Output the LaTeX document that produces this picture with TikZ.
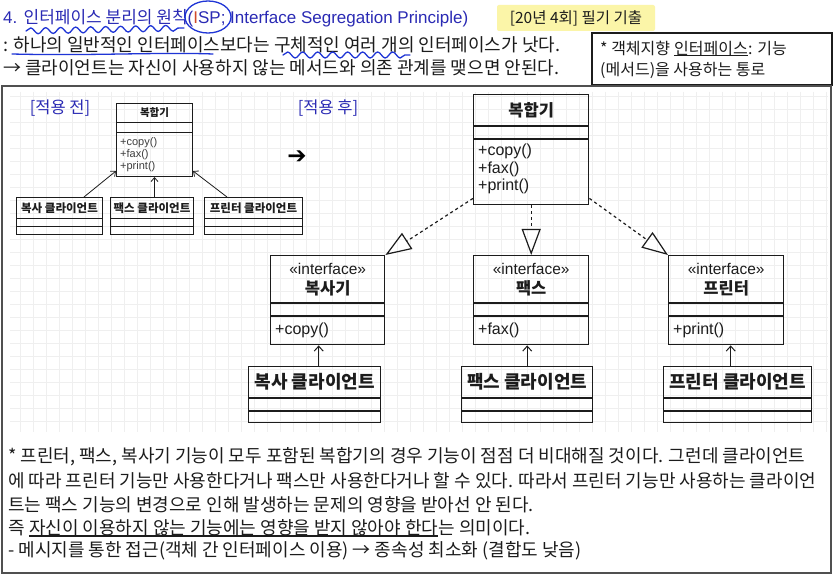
\documentclass[tikz,border=0pt]{standalone}
\usepackage{fontspec}
\setmainfont{Liberation Sans}
\newfontfamily\kr{Noto Sans CJK KR}
\newfontfamily\sym{DejaVu Sans}
\usetikzlibrary{arrows.meta,calc,decorations.pathmorphing}
\definecolor{TitleBlue}{HTML}{2A2AB4}
\definecolor{PenBlue}{HTML}{1F35D6}
\definecolor{CursorRed}{HTML}{D04A2A}
\definecolor{TagYellow}{HTML}{FBF5A8}
\definecolor{FrameGray}{HTML}{505050}
\definecolor{GridGray}{HTML}{EFEFEF}
\definecolor{InkBlack}{HTML}{1C1C1C}
\tikzset{
  % class boxes
  CB/.style={rectangle,draw=InkBlack,inner sep=0pt,anchor=north west},
  cS/.style={CB,line width=1pt},
  cL/.style={CB,line width=1.4pt},
  sepS/.style={draw=InkBlack,line width=1pt},
  sepL/.style={draw=InkBlack,line width=1.4pt},
  % texts
  nmS/.style={font=\kr\bfseries\fontsize{10.5pt}{12pt}\selectfont,text=InkBlack},
  nmL/.style={font=\kr\bfseries\fontsize{16.5pt}{19pt}\selectfont,text=InkBlack},
  mtS/.style={anchor=north west,align=left,inner sep=0pt,
              font=\fontsize{11pt}{12pt}\selectfont,text=InkBlack!85},
  mtL/.style={anchor=north west,align=left,inner sep=0pt,
              font=\fontsize{16pt}{17.5pt}\selectfont,text=InkBlack},
  txt/.style={anchor=west,inner sep=0pt,text=InkBlack,
              font=\kr\fontsize{18pt}{21pt}\selectfont},
  ntxt/.style={txt,font=\kr\fontsize{16pt}{19pt}\selectfont},
  tag/.style={font=\kr\fontsize{16.5pt}{19pt}\selectfont,text=TitleBlue},
  uline/.style={draw=InkBlack,line width=1.2pt},
  % connectors
  arr/.style={-{Straight Barb[length=5pt,width=9pt]},line width=1pt,draw=InkBlack},
  arS/.style={-{Straight Barb[length=4pt,width=7pt]},line width=0.8pt,draw=InkBlack},
  real/.style={-{Triangle[open,length=26pt,width=19pt,line width=1.2pt]},
               line width=1.2pt,dash pattern=on 3pt off 3pt,draw=InkBlack},
  pen/.style={draw=PenBlue,line width=1.3pt,line cap=round,line join=round},
  gridline/.style={draw=GridGray,line width=0.5pt}
}
\begin{document}
\begin{tikzpicture}[x=1pt,y=-1pt]
  \useasboundingbox (0,0) rectangle (833,577);
  \fill[white] (0,0) rectangle (833,577);

  % header
  \node[fill=TagYellow,rounded corners=2pt,minimum width=158pt,minimum height=26pt,
        font=\kr\fontsize{15.5pt}{18pt}\selectfont,text=InkBlack] (exam) at (576,18)
    {[20년 4회] 필기 기출};
  \node[anchor=west,inner sep=0pt,text=TitleBlue,font=\fontsize{17pt}{20pt}\selectfont] (title) at (3,18)
    {4. {\kr 인터페이스 분리의 원칙}(\textcolor{CursorRed}{I}SP; Interface Segregation Principle)};
  \node[txt] (def) at (3,45) {: 하나의 일반적인 인터페이스보다는 구체적인 여러 개의 인터페이스가 낫다.};
  \node[txt] (rule) at (3,68) {→ 클라이언트는 자신이 사용하지 않는 메서드와 의존 관계를 맺으면 안된다.};
  \draw[line width=1.2pt,draw=InkBlack] (592,33) rectangle (832,85);
  \node[ntxt] (note1) at (600,48) {* 객체지향};
  \node[ntxt,anchor=base west] (note1u) at ([xshift=3.6pt]note1.base east) {인터페이스};
  \node[ntxt,anchor=base west] (note1e) at (note1u.base east) {: 기능};
  \draw[uline] (note1u.south west) -- (note1u.south east);
  \node[ntxt] (note2) at (600,70) {(메서드)을 사용하는 통로};

  % pen marks
  \draw[pen] (208,17) ellipse [x radius=23,y radius=16];
  \draw[pen,decorate,decoration={snake,amplitude=3pt,segment length=15pt}] (26,31) -- (184,28);
  \draw[pen] (12,54) .. controls (90,56) and (160,52) .. (213,54);
  \draw[pen,decorate,decoration={snake,amplitude=3pt,segment length=15pt}] (283,55) -- (410,55);

  % frame and grid
  \foreach \gx in {20,33,...,826} \draw[gridline] (\gx,92) -- (\gx,432);
  \foreach \gy in {96,109,...,432} \draw[gridline] (10,\gy) -- (828,\gy);
  \draw[line width=1.5pt,draw=FrameGray] (2,86) rectangle (831,573);

  % before
  \node[tag] (before) at (60,108) {[적용 전]};
  \node[cS,minimum width=76pt,minimum height=73pt] (oldmfp) at (116,103) {};
  \draw[sepS] ([yshift=-20pt]oldmfp.north west) -- ([yshift=-20pt]oldmfp.north east);
  \draw[sepS] ([yshift=-30pt]oldmfp.north west) -- ([yshift=-30pt]oldmfp.north east);
  \node[nmS] (oldmfpN) at ([yshift=-10pt]oldmfp.north) {복합기};
  \node[mtS] (oldmfpM) at ([xshift=4pt,yshift=-34pt]oldmfp.north west) {+copy()\\+fax()\\+print()};

  \node[cS,minimum width=86pt,minimum height=37pt] (oldcp) at (16,197) {};
  \node[cS,minimum width=83pt,minimum height=37pt] (oldfx) at (110,197) {};
  \node[cS,minimum width=98pt,minimum height=37pt] (oldpr) at (204,197) {};
  \foreach \b in {oldcp,oldfx,oldpr}{
    \draw[sepS] ([yshift=-22pt]\b.north west) -- ([yshift=-22pt]\b.north east);
    \draw[sepS] ([yshift=-30pt]\b.north west) -- ([yshift=-30pt]\b.north east);
  }
  \node[nmS,font=\kr\bfseries\fontsize{11.5pt}{13pt}\selectfont] at ([yshift=-11pt]oldcp.north) {복사 클라이언트};
  \node[nmS,font=\kr\bfseries\fontsize{11.5pt}{13pt}\selectfont] at ([yshift=-11pt]oldfx.north) {팩스 클라이언트};
  \node[nmS,font=\kr\bfseries\fontsize{11.5pt}{13pt}\selectfont] at ([yshift=-11pt]oldpr.north) {프린터 클라이언트};
  \draw[arS] ([xshift=-19pt]oldcp.north east) -- ([yshift=6pt]oldmfp.south west);
  \draw[arS] (oldfx.north -| oldmfp.south) -- (oldmfp.south);
  \draw[arS] ([xshift=23pt]oldpr.north west) -- ([yshift=6pt]oldmfp.south east);

  \node[font=\sym\fontsize{23pt}{26pt}\selectfont,inner sep=0pt] (next) at (297,157) {➔};

  % after
  \node[tag] (after) at (328,108) {[적용 후]};
  \node[cL,minimum width=115pt,minimum height=110pt] (mfp) at (473,94) {};
  \draw[sepL] ([yshift=-32pt]mfp.north west) -- ([yshift=-32pt]mfp.north east);
  \draw[sepL] ([yshift=-45pt]mfp.north west) -- ([yshift=-45pt]mfp.north east);
  \node[nmL] (mfpN) at ([yshift=-16pt]mfp.north) {복합기};
  \node[mtL] (mfpM) at ([xshift=5pt,yshift=-50pt]mfp.north west) {+copy()\\+fax()\\+print()};

  \node[cL,minimum width=114pt,minimum height=89pt] (icp) at (270,255) {};
  \node[cL,minimum width=115pt,minimum height=89pt] (ifx) at (473,255) {};
  \node[cL,minimum width=115pt,minimum height=89pt] (ipr) at (668,255) {};
  \foreach \b/\n/\m in {icp/복사기/+copy(),ifx/팩스/+fax(),ipr/프린터/+print()}{
    \draw[sepL] ([yshift=-48pt]\b.north west) -- ([yshift=-48pt]\b.north east);
    \draw[sepL] ([yshift=-61pt]\b.north west) -- ([yshift=-61pt]\b.north east);
    \node[font=\fontsize{15.5pt}{17pt}\selectfont,text=InkBlack] at ([yshift=-14pt]\b.north) {«interface»};
    \node[nmL] at ([yshift=-33pt]\b.north) {\n};
    \node[mtL,anchor=west] at ([xshift=5pt,yshift=-75pt]\b.north west) {\m};
  }

  \node[cL,minimum width=132pt,minimum height=56pt] (ccp) at (248,366) {};
  \node[cL,minimum width=131pt,minimum height=56pt] (cfx) at (461,366) {};
  \node[cL,minimum width=148pt,minimum height=56pt] (cpr) at (663,366) {};
  \foreach \b in {ccp,cfx,cpr}{
    \draw[sepL] ([yshift=-32pt]\b.north west) -- ([yshift=-32pt]\b.north east);
    \draw[sepL] ([yshift=-45pt]\b.north west) -- ([yshift=-45pt]\b.north east);
  }
  \node[nmL,font=\kr\bfseries\fontsize{18pt}{20pt}\selectfont] at ([yshift=-16pt]ccp.north) {복사 클라이언트};
  \node[nmL,font=\kr\bfseries\fontsize{18pt}{20pt}\selectfont] at ([yshift=-16pt]cfx.north) {팩스 클라이언트};
  \node[nmL,font=\kr\bfseries\fontsize{18pt}{20pt}\selectfont] at ([yshift=-16pt]cpr.north) {프린터 클라이언트};

  \draw[real] ([yshift=7pt]mfp.south west) -- (icp.north east);
  \draw[real] (mfp.south) -- (ifx.north);
  \draw[real] ([yshift=7pt]mfp.south east) -- (ipr.north west);
  \draw[arr] ([xshift=4pt]ccp.north) -- ([xshift=4pt]ccp.north |- icp.south);
  \draw[arr] (cfx.north) -- (cfx.north |- ifx.south);
  \draw[arr] ([xshift=-7pt]cpr.north) -- ([xshift=-7pt]cpr.north |- ipr.south);

  % explanation
  \node[txt] (ex1) at (8,457) {* 프린터, 팩스, 복사기 기능이 모두 포함된 복합기의 경우 기능이 점점 더 비대해질 것이다. 그런데 클라이언트};
  \node[txt] (ex2) at (8,481) {에 따라 프린터 기능만 사용한다거나 팩스만 사용한다거나 할 수 있다. 따라서 프린터 기능만 사용하는 클라이언};
  \node[txt] (ex3) at (8,505) {트는 팩스 기능의 변경으로 인해 발생하는 문제의 영향을 받아선 안 된다.};
  \node[txt] (ex4) at (8,528) {즉};
  \node[txt,anchor=base west] (ex4u) at ([xshift=4pt]ex4.base east) {자신이 이용하지 않는 기능에는 영향을 받지 않아야 한다};
  \node[txt,anchor=base west] (ex4e) at (ex4u.base east) {는 의미이다.};
  \draw[uline] (ex4u.south west) -- (ex4u.south east);
  \node[txt] (ex5) at (8,551) {- 메시지를 통한 접근(객체 간 인터페이스 이용) → 종속성 최소화 (결합도 낮음)};
\end{tikzpicture}
\end{document}
